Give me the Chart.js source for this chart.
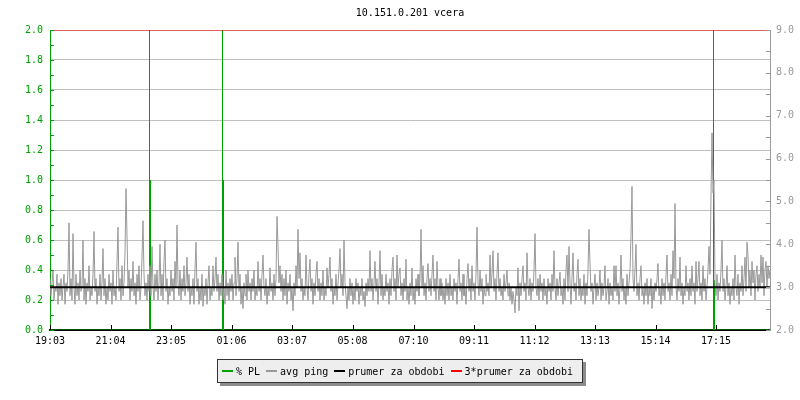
<!DOCTYPE html>
<html>
<head>
<meta charset="utf-8">
<script src="https://cdn.jsdelivr.net/npm/chart.js@4"></script>
<style>
html,body{margin:0;padding:0;background:#fff}
#wrap{position:relative;width:800px;height:400px}
#legend{position:absolute;left:217px;top:359px;height:24px;box-sizing:border-box;border:1px solid #333;background:#eeeeee;box-shadow:3px 3px 0 #8c8c8c;display:flex;align-items:center;padding:0 9px 0 4px;font:10px 'DejaVu Sans Mono',monospace;color:#000;white-space:pre}
#legend .it{display:flex;align-items:center;margin-right:6px}
#legend .it:last-child{margin-right:0}
#legend .sw{display:inline-block;width:11px;height:2px;margin-right:3px}
</style>
</head>
<body>
<div id="wrap"><canvas id="c" width="800" height="400"></canvas><div id="legend"></div></div>
<script>
const GREEN = '#00a000', GREY = '#999999', GRID = '#c0c0c0'
const FONT = { family: 'DejaVu Sans Mono', size: 10 }
const title = '10.151.0.201 vcera'

// x axis: minutes since 19:03, one ping sample every 2 minutes
const stepMin = 2
const tickMinutes = [0, 121, 242, 363, 484, 605, 727, 848, 969, 1090, 1211, 1332]
const tickLabels = ['19:03','21:04','23:05','01:06','03:07','05:08','07:10','09:11','11:12','13:13','15:14','17:15']

// avg ping (ms, right axis), 60 samples = 2 hours per row
const ping = [
  3.2,2.8,3.1,3.4,2.7,3.0,2.9,3.3,2.6,3.1, 2.8,3.2,2.7,3.0,3.3,2.6,3.1,2.9,3.4,4.5, 2.8,3.2,2.7,4.25,3.0,2.6,3.3,2.8,3.1,2.7,
  3.4,2.9,3.0,4.1,2.7,3.2,2.6,3.1,2.9,3.5, 2.7,3.0,2.8,3.3,4.3,2.9,3.2,2.6,3.0,2.8, 3.3,2.7,3.1,3.9,2.8,3.2,2.6,3.0,2.7,3.3,
  2.9,3.1,2.6,3.4,2.8,3.0,2.7,3.6,4.4,2.9, 3.2,2.7,3.5,2.8,3.1,3.8,5.3,4.2,3.0,3.4, 2.7,3.2,2.9,3.6,2.8,3.1,2.6,3.3,2.9,3.5,
  2.7,3.0,3.7,4.55,3.3,2.8,3.1,2.7,3.3,2.9, 3.5,2.8,3.95,3.0,2.7,3.3,2.9,3.4,2.7,3.1, 4.0,2.8,3.3,2.7,3.6,4.1,2.9,3.2,2.6,3.0,
  2.8,3.4,2.9,3.2,2.7,3.6,3.0,4.45,3.1,2.8, 3.4,2.7,3.2,2.9,3.5,2.8,3.1,3.7,2.9,3.3, 2.6,3.0,2.8,3.2,2.6,3.4,4.05,2.9,3.2,2.6,
  3.0,2.7,3.3,2.55,3.0,2.8,3.2,2.6,3.1,3.5, 2.7,3.0,2.8,3.5,2.9,3.2,3.7,2.9,3.3,2.7, 3.1,2.8,3.3,2.7,3.0,2.6,3.4,2.8,3.1,2.7,
  3.2,2.9,3.3,2.7,3.1,3.7,2.8,3.2,4.05,2.9, 3.3,2.6,3.0,2.5,3.1,2.8,3.3,2.7,3.4,2.9, 3.1,2.7,3.2,2.9,3.4,2.7,3.0,2.8,3.6,2.9,
  3.2,2.7,3.3,3.75,3.0,2.8,3.2,2.6,3.0,2.8, 3.45,2.9,3.1,2.7,3.3,2.8,3.2,4.65,3.95,3.1, 3.5,2.9,3.3,2.7,3.2,2.8,3.4,2.6,3.1,2.9,
  3.3,2.7,3.0,2.45,3.1,2.8,3.5,3.0,4.35,3.2, 3.8,2.9,3.2,2.7,3.0,2.8,3.75,3.0,2.7,3.3, 3.65,2.9,3.2,2.6,3.1,2.8,3.3,3.6,2.9,3.2,
  2.7,3.1,2.8,3.4,2.7,3.0,2.8,3.45,3.0,3.3, 3.7,2.9,3.2,2.6,3.0,2.8,3.3,2.7,3.1,3.4, 3.9,3.0,3.3,2.8,4.1,3.1,2.8,2.5,3.0,2.7,
  3.2,2.8,3.1,2.6,3.0,2.7,3.2,2.9,3.1,2.6, 3.0,2.8,3.2,2.7,2.9,2.55,3.1,2.8,3.2,2.9, 3.85,2.9,3.2,2.7,3.1,3.6,2.9,3.2,2.6,3.1,
  3.85,2.8,3.3,2.7,3.0,2.8,3.3,2.9,3.1,2.6, 3.2,2.8,3.4,3.7,2.9,3.2,2.7,3.75,3.0,3.3, 3.45,2.8,3.1,2.7,3.2,2.9,3.65,2.7,3.0,2.6,
  3.1,2.8,3.45,2.7,3.0,2.6,3.2,2.9,3.3,2.8, 3.2,4.35,3.0,3.5,2.8,3.1,2.7,3.2,3.55,2.9, 3.2,2.8,3.3,3.75,2.9,3.2,2.7,3.6,3.0,2.7,
  3.2,2.8,3.1,2.7,3.0,2.6,3.2,2.8,3.1,2.7, 3.3,2.8,3.0,2.7,3.2,2.9,3.1,2.6,3.2,3.65, 2.9,3.1,2.7,3.3,2.8,3.0,2.6,3.2,3.55,2.9,
  3.2,2.7,3.5,2.9,3.1,2.7,3.3,4.4,3.1,2.8, 3.4,2.9,3.2,2.6,3.0,2.8,3.3,2.9,3.1,2.8, 3.75,3.0,3.3,3.85,2.9,3.2,2.7,3.3,3.8,2.9,
  3.2,2.8,3.0,2.7,3.3,2.9,3.1,3.4,2.8,3.1, 2.7,3.0,2.6,2.9,2.7,2.4,3.0,2.8,3.45,2.45, 3.1,2.8,3.2,3.5,2.9,3.1,2.7,3.8,3.0,2.8,
  3.2,2.7,3.1,2.9,3.4,4.25,3.0,2.8,3.2,2.7, 3.3,2.9,3.1,2.7,3.2,2.8,3.0,2.6,3.2,2.9, 3.1,2.7,3.3,2.9,3.85,3.0,2.7,3.2,2.8,3.1,
  3.35,2.8,3.0,2.6,3.2,2.7,3.4,3.75,2.9,3.95, 3.1,2.6,3.2,3.8,2.9,3.1,2.7,3.3,3.65,2.8, 3.2,2.7,3.0,2.8,3.3,2.6,3.1,2.8,3.4,4.35,
  3.55,2.9,3.1,2.6,3.0,3.3,2.7,3.1,2.8,3.0, 3.4,2.7,3.1,2.8,3.0,3.5,2.7,2.9,3.2,2.6, 3.1,2.8,3.0,2.7,3.5,2.9,3.5,2.8,3.1,2.6,
  3.0,3.75,2.9,3.2,2.7,3.0,2.6,3.3,2.8,3.1, 3.4,4.2,5.35,3.2,2.9,3.4,4.0,2.8,3.1,2.7, 3.2,3.5,2.8,3.0,2.6,3.1,2.8,3.2,2.6,3.0,
  2.8,3.2,2.5,3.0,2.7,3.1,2.9,3.2,3.55,2.8, 3.0,2.6,3.2,2.8,3.1,2.7,3.3,3.75,2.9,3.1, 2.7,3.3,2.8,3.85,3.2,4.95,3.0,2.7,3.2,2.9,
  3.7,2.8,3.1,2.6,3.0,2.8,3.5,2.9,3.1,2.7, 3.2,2.8,3.5,2.9,3.1,2.6,3.6,2.9,3.2,3.6, 2.8,3.1,2.7,3.5,2.9,3.2,2.7,3.0,3.4,3.95,
  3.3,5.15,6.6,5.2,5.5,3.1,2.8,3.3,2.7,3.1, 2.9,3.4,4.1,2.9,3.2,2.7,3.0,3.5,2.8,3.1, 2.6,3.0,2.8,3.2,2.7,3.75,3.0,2.8,3.3,2.6,
  3.1,2.9,3.5,2.8,3.2,3.7,2.9,4.05,3.75,3.0, 3.4,2.8,3.6,3.1,3.4,2.7,3.3,3.5,2.9,3.3, 3.0,3.75,3.1,3.7,2.8,3.4,3.6,3.0,3.5,3.2,
  3.4
]

// % packet loss (left axis), null = unknown sample after full loss
const plMinutes = [0, 199, 199, 200, 201, 201, 345, 345, 346, 347, 347, 1327, 1327, 1328, 1329, 1329, 1440]
const plValues  = [0, 0, 2.5, null, 1.0, 0, 0, 2.5, null, 1.0, 0, 0, 2.5, null, 0.33, 0, 0]

const prumer = 3.0
const legendNames = ['% PL', 'avg ping', 'prumer za obdobi', '3*prumer za obdobi']
const legendColors = [GREEN, GREY, '#000000', '#ff0000']

const pingData = ping.map((v, i) => ({ x: i * stepMin, y: v }))
const plData = plMinutes.map((m, i) => ({ x: m, y: plValues[i] }))
const lastMin = (ping.length - 1) * stepMin

const titlePlugin = {
  id: 'rrdTitle',
  afterDraw(ch){
    const c = ch.ctx, a = ch.chartArea
    c.save(); c.font = "10px 'DejaVu Sans Mono'"; c.fillStyle = '#000'; c.textAlign = 'center'; c.textBaseline = 'middle'
    c.fillText(title, (a.left + a.right) / 2, 13)
    c.restore()
  }
}

// rrd style ticks pointing into the plot
const inTicks = {
  id: 'inTicks',
  afterDraw(ch){
    const c = ch.ctx, a = ch.chartArea, y = ch.scales.y, y2 = ch.scales.y2, x = ch.scales.x
    c.save(); c.lineWidth = 1
    c.strokeStyle = GREEN
    for(let v = 0; v <= 20; v++){ const p = Math.round(y.getPixelForValue(v / 10)) + 0.5; c.beginPath(); c.moveTo(a.left, p); c.lineTo(a.left + 4, p); c.stroke() }
    c.strokeStyle = GREY
    for(let v = 4; v <= 18; v++){ const p = Math.round(y2.getPixelForValue(v / 2)) + 0.5; c.beginPath(); c.moveTo(a.right - 4, p); c.lineTo(a.right, p); c.stroke() }
    c.strokeStyle = '#000'
    tickMinutes.forEach(m => { const p = Math.round(x.getPixelForValue(m)) + 0.5; c.beginPath(); c.moveTo(p, a.bottom); c.lineTo(p, a.bottom - 5); c.stroke() })
    c.restore()
  }
}

const chart = new Chart(document.getElementById('c').getContext('2d'), {
  type: 'line',
  data: { datasets: [
    { label: legendNames[0], data: plData, yAxisID: 'y', borderColor: GREEN, borderWidth: 1, pointRadius: 0, spanGaps: false, order: 3 },
    { label: legendNames[1], data: pingData, yAxisID: 'y2', borderColor: GREY, borderWidth: 1, pointRadius: 0, order: 2 },
    { label: legendNames[2], data: [{ x: 0, y: prumer }, { x: lastMin, y: prumer }], yAxisID: 'y2', borderColor: '#000', borderWidth: 2, pointRadius: 0, order: 1 },
    { label: legendNames[3], data: [{ x: 0, y: 3 * prumer }, { x: lastMin, y: 3 * prumer }], yAxisID: 'y2', borderColor: '#ff0000', borderWidth: 1, pointRadius: 0, order: 0 }
  ]},
  options: {
    responsive: false, animation: false,
    layout: { padding: { top: 30, left: 0, right: 0, bottom: 0 } },
    plugins: { legend: { display: false }, tooltip: { enabled: false }, title: { display: false } },
    scales: {
      x: {
        type: 'linear', min: 0, max: lastMin, z: 1,
        grid: { display: false, drawTicks: false }, border: { color: '#000', width: 2 },
        afterBuildTicks: s => { s.ticks = tickMinutes.map(v => ({ value: v })) },
        ticks: { autoSkip: false, maxRotation: 0, padding: 5, color: '#000', font: FONT, callback: (v, i) => tickLabels[i] },
        afterFit: s => { s.height = 70 }
      },
      y: {
        position: 'left', min: 0, max: 2,
        grid: { color: GRID, drawTicks: false }, border: { color: GREEN },
        ticks: { stepSize: 0.2, padding: 7, color: GREEN, font: FONT, callback: v => v.toFixed(1) },
        afterFit: s => { s.width = 50 }
      },
      y2: {
        position: 'right', min: 2, max: 9,
        grid: { display: false, drawTicks: false }, border: { color: GREY },
        ticks: { stepSize: 1, padding: 6, color: GREY, font: FONT, callback: v => v.toFixed(1) },
        afterFit: s => { s.width = 30 }
      }
    }
  },
  plugins: [titlePlugin, inTicks]
})

const lg = document.getElementById('legend')
legendNames.forEach((n, i) => {
  const it = document.createElement('span'); it.className = 'it'
  const sw = document.createElement('span'); sw.className = 'sw'; sw.style.background = legendColors[i]
  it.append(sw, document.createTextNode(n)); lg.appendChild(it)
})
</script>
</body>
</html>
